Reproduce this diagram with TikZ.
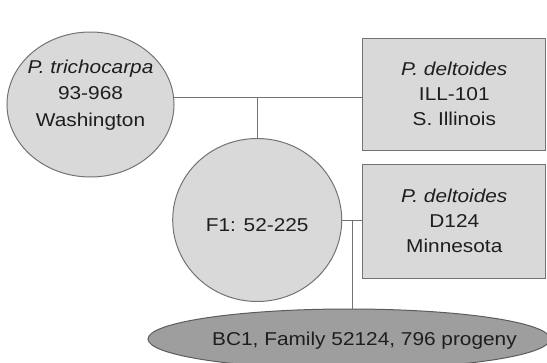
\documentclass[tikz,border=0pt]{standalone}
\usepackage{fontspec}
\setmainfont{Liberation Sans}[FakeStretch=1.12]
\usetikzlibrary{shapes.geometric,calc}
\definecolor{lightfill}{RGB}{217,217,217}
\definecolor{darkfill}{RGB}{158,158,158}
\definecolor{edgegray}{RGB}{115,115,115}
\definecolor{inkgray}{RGB}{30,30,30}
\begin{document}
\begin{tikzpicture}[x=1pt, y=-1pt, text=inkgray,
                    main node/.style={ellipse,draw=edgegray,fill=lightfill,line width=1pt,inner sep=0pt},
                    box node/.style={rectangle,draw=edgegray,fill=lightfill,line width=1pt,minimum width=183pt,
                                     align=center,font=\fontsize{18.6}{25}\selectfont},
                    txt/.style={align=center,font=\fontsize{18.6}{26.5}\selectfont},
                    link/.style={draw=edgegray,line width=1pt}]

  \clip (0,0) rectangle (547,362);

  \node[main node,minimum width=167pt,minimum height=145pt,
        label={[txt,yshift=9.5pt]center:{\textit{P. trichocarpa}\\93-968\\Washington}}] (1) at (90.5,104.5) {};
  \node[box node,minimum height=112pt] (2) at (454.3,94.2) {\textit{P. deltoides}\\ILL-101\\S. Illinois};
  \node[main node,minimum width=169pt,minimum height=163pt,
        label={[txt,yshift=-5pt]center:F1: 52-225}] (3) at (257.2,220) {};
  \node[box node,minimum height=114pt] (4) at (454.3,221.3) {\textit{P. deltoides}\\D124\\Minnesota};
  \node[main node,fill=darkfill,draw=edgegray!80!black,minimum width=402pt,minimum height=60pt,
        label={[txt,xshift=15.5pt,yshift=-2pt]center:{BC1, Family 52124, 796 progeny}}] (5) at (349,339) {};

  \draw[link] (1.5) -- (1.5 -| 2.west);
  \draw[link] (3.north) -- (3.north |- 1.5);
  \draw[link] (3.east) -- (3.east -| 4.west);
  \coordinate (m) at ($(3.east)!.5!(3.east -| 4.west)$);
  \draw[link] (m) -- (m |- 5.north);

\end{tikzpicture}
\end{document}
